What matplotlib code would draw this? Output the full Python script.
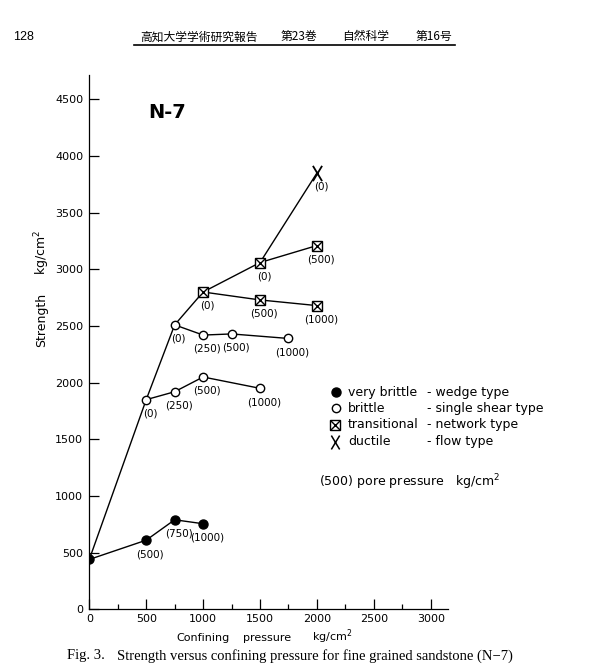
import matplotlib
matplotlib.use("Agg")
import matplotlib.pyplot as plt
from matplotlib.lines import Line2D
from matplotlib.path import Path

# ---------------- data ----------------
trunk_x = [0, 500, 750, 1000, 1500, 2000]
trunk_y = [440, 1850, 2510, 2800, 3060, 3850]

very_brittle_x = [0, 500, 750, 1000]
very_brittle_y = [440, 610, 790, 755]
very_brittle_pp = ["", "(500)", "(750)", "(1000)"]

brittle1_x = [500, 750, 1000, 1500]
brittle1_y = [1850, 1920, 2050, 1950]
brittle1_pp = ["(0)", "(250)", "(500)", "(1000)"]

brittle2_x = [750, 1000, 1250, 1750]
brittle2_y = [2510, 2420, 2430, 2390]
brittle2_pp = ["(0)", "(250)", "(500)", "(1000)"]

trans1_x = [1000, 1500, 2000]
trans1_y = [2800, 2730, 2680]
trans1_pp = ["(0)", "(500)", "(1000)"]

trans2_x = [1500, 2000]
trans2_y = [3060, 3210]
trans2_pp = ["(0)", "(500)"]

ductile_x = [2000]
ductile_y = [3850]
ductile_pp = ["(0)"]

y_ticks = [0, 500, 1000, 1500, 2000, 2500, 3000, 3500, 4000, 4500]
x_ticks = [0, 500, 1000, 1500, 2000, 2500, 3000]
x_minor = [250, 750, 1250, 1750, 2250, 2750]

legend_types = ["very brittle", "brittle", "transitional", "ductile"]
legend_modes = ["- wedge type", "- single shear type", "- network type", "- flow type"]

# ---------------- figure ----------------
W, H = 611, 664
fig = plt.figure(figsize=(W / 100, H / 100), dpi=100)
fig.patch.set_facecolor("white")


def fx(px):
    return px / W


def fy(py):
    return 1 - py / H


# letter-like "X" marker (taller than wide, thin strokes)
X_MARK = Path([(-0.6, -1), (0.6, 1), (-0.6, 1), (0.6, -1)],
              [Path.MOVETO, Path.LINETO, Path.MOVETO, Path.LINETO])

ax_l, ax_r, ax_b, ax_t = 89.3, 447.7, 609.3, 75
ax = fig.add_axes([fx(ax_l), fy(ax_b), (ax_r - ax_l) / W, (ax_b - ax_t) / H])
ax.set_xlim(0, 3149)
ax.set_ylim(0, 4715)
for s in ("top", "right"):
    ax.spines[s].set_visible(False)
for s in ("left", "bottom"):
    ax.spines[s].set_linewidth(0.9)
    ax.spines[s].set_color("black")

ax.set_yticks(y_ticks)
ax.set_xticks(x_ticks)
ax.set_xticks(x_minor, minor=True)
ax.tick_params(axis="y", direction="in", length=7, width=0.9, pad=4.3, labelsize=8)
ax.tick_params(axis="x", which="major", direction="in", length=7.5, width=0.9, pad=3.5, labelsize=8)
ax.tick_params(axis="x", which="minor", direction="in", length=3.8, width=0.9)

lw = 1.0
# trunk line
ax.plot(trunk_x, trunk_y, color="black", lw=lw, zorder=2)
# branches
ax.plot(very_brittle_x, very_brittle_y, color="black", lw=lw, marker="o", ms=6.5,
        mfc="black", mec="black", zorder=3)
ax.plot(brittle1_x, brittle1_y, color="black", lw=lw, marker="o", ms=6,
        mfc="white", mec="black", mew=1.0, zorder=3)
ax.plot(brittle2_x, brittle2_y, color="black", lw=lw, marker="o", ms=6,
        mfc="white", mec="black", mew=1.0, zorder=3)
for xs, ys in ((trans1_x, trans1_y), (trans2_x, trans2_y)):
    ax.plot(xs, ys, color="black", lw=lw, marker="s", ms=7,
            mfc="white", mec="black", mew=1.0, zorder=3)
    ax.plot(xs, ys, ls="none", marker="x", ms=7, mec="black", mew=1.0, zorder=4)
ax.plot(ductile_x, ductile_y, ls="none", marker=X_MARK, ms=11,
        mfc="none", mec="black", mew=1.3, zorder=4)

# pore pressure labels
for xs, ys, labs in ((very_brittle_x, very_brittle_y, very_brittle_pp),
                     (brittle1_x, brittle1_y, brittle1_pp),
                     (brittle2_x, brittle2_y, brittle2_pp),
                     (trans1_x, trans1_y, trans1_pp),
                     (trans2_x, trans2_y, trans2_pp),
                     (ductile_x, ductile_y, ductile_pp)):
    for x, y, t in zip(xs, ys, labs):
        if t:
            ax.annotate(t, (x, y), xytext=(3, -10), textcoords="offset points",
                        ha="center", va="center", fontsize=7.5)

# N-7 title inside plot
fig.text(fx(167), fy(113), "N-7", fontsize=14, fontweight="bold", ha="center", va="center")

# axis labels
fig.text(fx(41.5), fy(319.5), "Strength", rotation=90, fontsize=9, ha="center", va="center")
fig.text(fx(42), fy(252), "kg/cm$^2$", rotation=90, fontsize=9, ha="center", va="center")
fig.text(fx(176.7), fy(638), "Confining", fontsize=8, ha="left", va="center")
fig.text(fx(243), fy(638), "pressure", fontsize=8, ha="left", va="center")
fig.text(fx(311.7), fy(637), "kg/cm$^2$", fontsize=8, ha="left", va="center")

# legend
row_y = [392.3, 408.3, 424.7, 441.5]
fig.add_artist(Line2D([fx(336)], [fy(row_y[0])], marker="o", ms=6.5, mfc="black",
                      mec="black", transform=fig.transFigure))
fig.add_artist(Line2D([fx(335.5)], [fy(row_y[1])], marker="o", ms=6, mfc="white",
                      mec="black", mew=1.0, transform=fig.transFigure))
fig.add_artist(Line2D([fx(334.5)], [fy(row_y[2])], marker="s", ms=7, mfc="white",
                      mec="black", mew=1.0, transform=fig.transFigure))
fig.add_artist(Line2D([fx(334.5)], [fy(row_y[2])], marker="x", ms=7,
                      mec="black", mew=1.0, transform=fig.transFigure))
fig.add_artist(Line2D([fx(335)], [fy(row_y[3])], marker=X_MARK, ms=10, mfc="none",
                      mec="black", mew=1.1, transform=fig.transFigure))
for yy, t, m in zip(row_y, legend_types, legend_modes):
    fig.text(fx(348), fy(yy), t, fontsize=9, ha="left", va="center")
    fig.text(fx(427), fy(yy), m, fontsize=9, ha="left", va="center")
fig.text(fx(319.3), fy(481.7), "(500) pore pressure   kg/cm$^2$", fontsize=9,
         ha="left", va="center")

# page header
fig.text(fx(23.4), fy(37), "128", fontsize=9, ha="center", va="center",
         family="Liberation Sans")
hdr_font = ["Noto Sans CJK JP", "DejaVu Sans"]
for x0, t in ((140, "高知大学学術研究報告"), (281, "第23巻"), (342, "自然科学"), (416, "第16号")):
    fig.text(fx(x0), fy(36.8), t, fontsize=8.5, ha="left", va="center", family=hdr_font)
fig.add_artist(Line2D([fx(134), fx(455)], [fy(44.5), fy(44.5)], color="black", lw=1.2,
                      transform=fig.transFigure))

# caption
fig.text(fx(66.7), fy(659.5), "Fig. 3.", fontsize=10.5, ha="left", va="baseline",
         family="Liberation Serif")
fig.text(fx(116.7), fy(659.5), "Strength versus confining pressure for fine grained sandstone (N−7)",
         fontsize=10.5, ha="left", va="baseline", family="Liberation Serif")

fig.savefig("out.png", dpi=100, facecolor="white")
